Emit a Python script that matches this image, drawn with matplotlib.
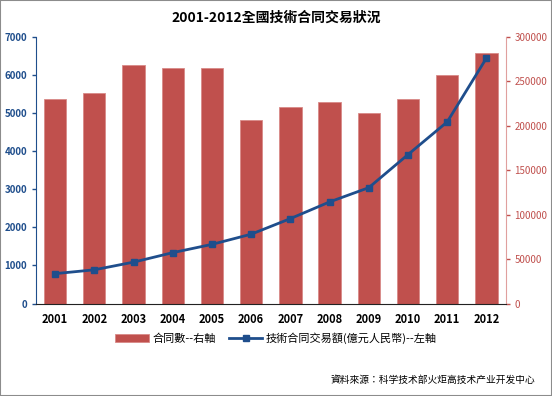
import matplotlib
matplotlib.use("Agg")
import matplotlib.pyplot as plt
from matplotlib.patches import Rectangle

plt.rcParams['font.family'] = ['Noto Sans CJK TC', 'DejaVu Sans']

# data
years = ['2001', '2002', '2003', '2004', '2005', '2006',
         '2007', '2008', '2009', '2010', '2011', '2012']
contracts = [229700, 237100, 268000, 264600, 265100, 205800,
             220900, 226300, 213800, 229600, 256400, 282200]
amounts = [783, 884, 1085, 1334, 1551, 1818,
           2227, 2665, 3039, 3907, 4764, 6437]

red = '#C0504D'
blue = '#1F4E8C'

fig = plt.figure(figsize=(5.52, 3.96), dpi=100)
fig.patches.append(Rectangle((0, 0), 1, 1, transform=fig.transFigure,
                             fill=False, edgecolor='#8c8c8c', linewidth=1.5))

ax = fig.add_axes([35.5 / 552, 1 - 303.5 / 396, (506 - 35.5) / 552, (303.5 - 36.7) / 396])
ax2 = ax.twinx()

x = list(range(len(years)))
bars = ax2.bar(x, contracts, width=0.57, color=red, edgecolor='#d98a88', linewidth=0.6)
line, = ax.plot(x, amounts, color=blue, linewidth=2, marker='s', markersize=5)

ax.set_zorder(ax2.get_zorder() + 1)
ax.patch.set_visible(False)

ax.set_xlim(-0.5, 11.5)
ax.set_ylim(0, 7000)
ax.set_yticks(range(0, 7001, 1000))
ax2.set_ylim(0, 300000)
ax2.set_yticks(range(0, 300001, 50000))

ax.set_xticks(x)
ax.set_xticklabels(years, fontsize=8, fontweight='bold')
ax.tick_params(axis='x', length=0, pad=7)
ax.tick_params(axis='y', colors=blue, labelsize=7, length=3, width=1, direction='out', pad=3)
for t in ax.get_yticklabels():
    t.set_fontweight('bold')
ax2.tick_params(axis='y', colors=red, labelsize=7, length=3, width=1, direction='out', pad=3)
for t in ax2.get_yticklabels():
    t.set_color(red)

for a in (ax, ax2):
    a.spines['top'].set_visible(False)
ax.spines['right'].set_visible(False)
ax.spines['left'].set_color(blue)
ax.spines['bottom'].set_color('#222222')
ax2.spines['left'].set_visible(False)
ax2.spines['bottom'].set_visible(False)
ax2.spines['right'].set_color('#e0a09e')

fig.text(0.5, 1 - 18 / 396, '2001-2012全國技術合同交易狀況', ha='center', va='center',
         fontsize=10, fontweight='bold')

fig.legend([bars, line], ['合同數--右軸', '技術合同交易額(億元人民幣)--左軸'],
           loc='center', bbox_to_anchor=(0.5, 1 - 338 / 396), ncol=2, frameon=False,
           fontsize=8, handlelength=3, columnspacing=1.2, handletextpad=0.3)

fig.text(535 / 552, 1 - 380 / 396, '資料來源：科学技术部火炬高技术产业开发中心',
         ha='right', va='center', fontsize=7)

fig.savefig('out.png', dpi=100)
